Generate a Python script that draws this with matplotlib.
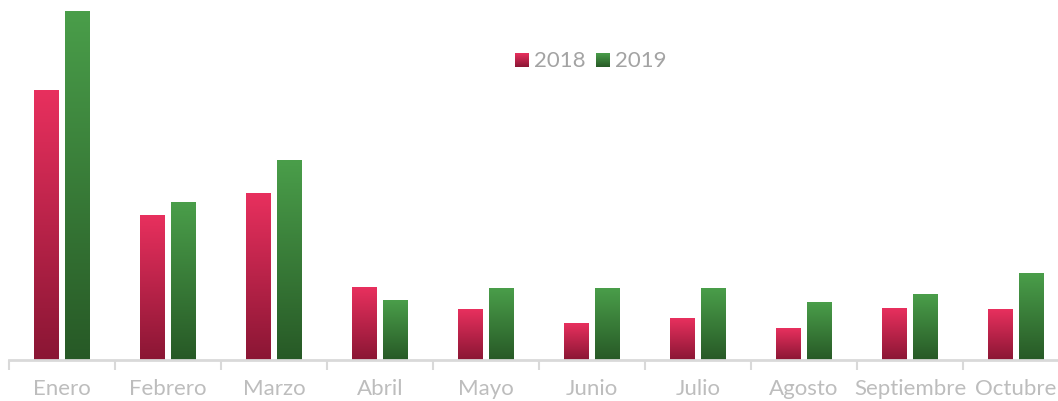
import numpy as np
import matplotlib.pyplot as plt
from matplotlib.colors import LinearSegmentedColormap

meses = ['Enero', 'Febrero', 'Marzo', 'Abril', 'Mayo', 'Junio',
         'Julio', 'Agosto', 'Septiembre', 'Octubre']
v2018 = [270, 145, 167, 73, 51, 37, 42, 32, 52, 51]
v2019 = [349, 158, 200, 60, 72, 72, 72, 58, 66, 87]
series = ['2018', '2019']

cmap_red = LinearSegmentedColormap.from_list('r', ['#8a1634', '#e8305e'])
cmap_green = LinearSegmentedColormap.from_list('g', ['#275926', '#4a9e4a'])

plt.rcParams['font.family'] = ['Lato', 'DejaVu Sans']

W, H = 1058, 402
fig = plt.figure(figsize=(W / 100, H / 100), dpi=100)
ax = fig.add_axes([9 / W, 41 / H, 1060 / W, 361 / H])

x = np.arange(len(meses))
w = 0.232
off = 0.145
grad = np.linspace(1, 0, 256).reshape(-1, 1)


def gradient_bars(bars, cmap):
    for b in bars:
        x0, y0 = b.get_x(), b.get_y()
        ax.imshow(grad, cmap=cmap, aspect='auto', zorder=2,
                  extent=[x0, x0 + b.get_width(), y0, y0 + b.get_height()])
        b.set_visible(False)


b1 = ax.bar(x - off, v2018, w)
b2 = ax.bar(x + off, v2019, w)
gradient_bars(b1, cmap_red)
gradient_bars(b2, cmap_green)

ax.set_xlim(-0.5, len(meses) - 0.5)
ax.set_ylim(0, 361)

for s in ['top', 'right', 'left']:
    ax.spines[s].set_visible(False)
ax.spines['bottom'].set_color('#d9d9d9')
ax.spines['bottom'].set_linewidth(2)
ax.spines['bottom'].set_zorder(3)
ax.set_yticks([])

# separadores entre meses
ax.set_xticks(np.arange(len(meses)) - 0.5)
ax.set_xticklabels([])
ax.tick_params(axis='x', which='major', length=7, width=1.5, color='#d9d9d9')
ax.set_xticks(x, minor=True)
ax.set_xticklabels(meses, minor=True, fontsize=16, color='#bdbdbd')
ax.tick_params(axis='x', which='minor', length=0, pad=13)

# leyenda manual
leg_items = [(515, 534, cmap_red), (596, 615, cmap_green)]
for (sx, tx, cm), lab in zip(leg_items, series):
    lax = fig.add_axes([sx / W, (H - 68) / H, 14 / W, 14 / H])
    lax.imshow(grad, cmap=cm, aspect='auto')
    lax.axis('off')
    fig.text(tx / W, (H - 61) / H, lab, fontsize=16, color='#a3a3a3',
             va='center', ha='left')

fig.savefig('out.png', dpi=100)
